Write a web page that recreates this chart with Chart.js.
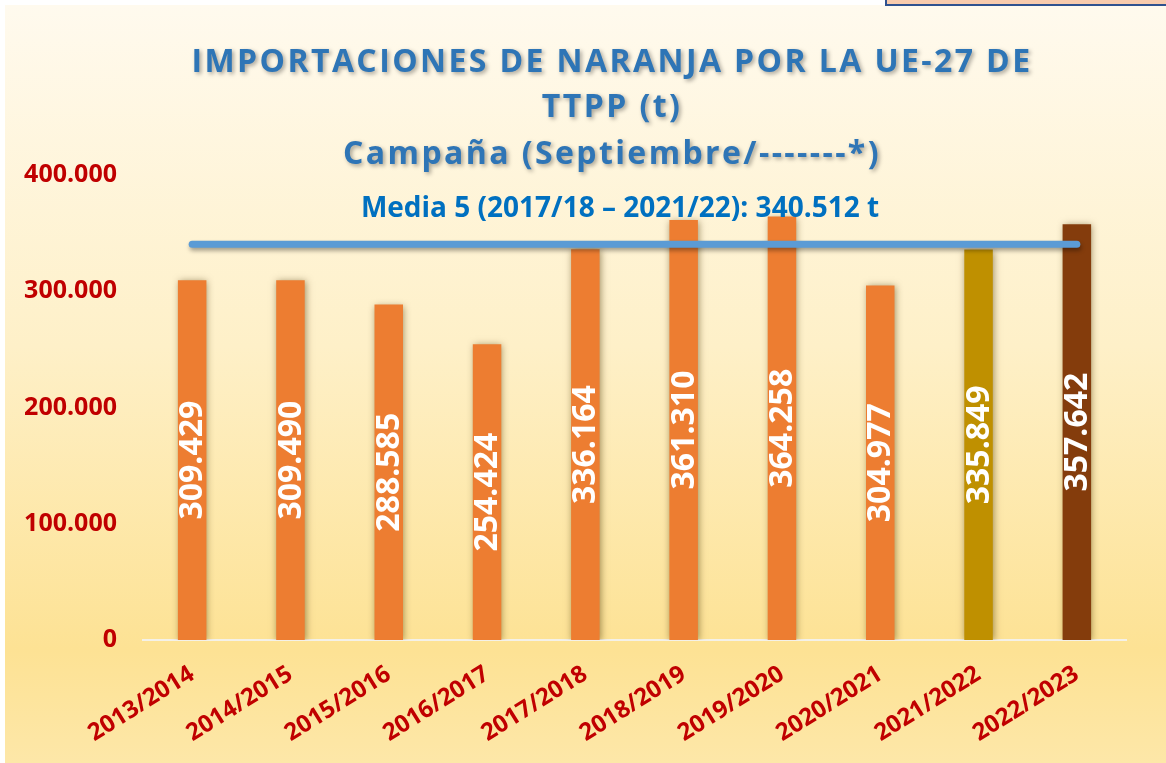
<!DOCTYPE html>
<html>
<head>
<meta charset="utf-8">
<script src="https://cdn.jsdelivr.net/npm/chart.js@4.4.0/dist/chart.umd.min.js"></script>
<style>
  body { margin: 0; background: #fff; overflow: hidden; }
  #caja { position: relative; width: 1166px; height: 763px; }
  #recuadro { position: absolute; left: 885px; top: -20px; width: 300px; height: 22px;
    background: #F8CBAD; border: 2px solid #2F528F; }
</style>
</head>
<body>
<div id="caja">
  <canvas id="grafico"></canvas>
  <div id="recuadro"></div>
</div>
<script>
const campanas = ["2013/2014", "2014/2015", "2015/2016", "2016/2017", "2017/2018",
                  "2018/2019", "2019/2020", "2020/2021", "2021/2022", "2022/2023"];
const importaciones = [309429, 309490, 288585, 254424, 336164, 361310, 364258, 304977, 335849, 357642];
const media5 = [340512, 340512, 340512, 340512, 340512, 340512, 340512, 340512, 340512, 340512];
const ticksY = [0, 100000, 200000, 300000, 400000];
const titulo = ["IMPORTACIONES DE NARANJA POR LA UE-27 DE", "TTPP (t)", "Campaña (Septiembre/-------*)"];
const textoMedia = "Media 5 (2017/18 – 2021/22): 340.512 t";

const coloresBarras = ["#ED7D31", "#ED7D31", "#ED7D31", "#ED7D31", "#ED7D31",
                       "#ED7D31", "#ED7D31", "#ED7D31", "#BF9000", "#843C0C"];
const fuente = "'Open Sans', 'Liberation Sans', sans-serif";

function formato(n) {
    return n.toString().replace(/\B(?=(\d{3})+(?!\d))/g, ".");
}

// fondo degradado y franja blanca a la izquierda
const fondo = {
    id: "fondo",
    beforeDraw(chart) {
        const ctx = chart.ctx;
        const w = chart.width, h = chart.height;
        ctx.save();
        ctx.fillStyle = "#ffffff";
        ctx.fillRect(0, 0, w, h);
        const g = ctx.createLinearGradient(0, 5, 0, h);
        g.addColorStop(0, "#FFFAEE");
        g.addColorStop(0.45, "#FEF0C8");
        g.addColorStop(0.85, "#FDE294");
        g.addColorStop(1, "#FDE7A8");
        ctx.fillStyle = g;
        ctx.fillRect(5, 5, w - 5, h - 5);
        ctx.restore();
    }
};

// sombras de barras y linea
const sombras = {
    id: "sombras",
    beforeDatasetDraw(chart, args) {
        const ctx = chart.ctx;
        ctx.save();
        if (args.meta.type === "line") {
            ctx.shadowColor = "rgba(0,0,0,0.35)";
            ctx.shadowBlur = 4;
            ctx.shadowOffsetX = 1;
            ctx.shadowOffsetY = 3;
        } else {
            ctx.shadowColor = "rgba(70,50,0,0.5)";
            ctx.shadowBlur = 7;
            ctx.shadowOffsetX = 1;
            ctx.shadowOffsetY = 1;
        }
    },
    afterDatasetDraw(chart) {
        chart.ctx.restore();
    }
};

// etiquetas de valores dentro de las barras
const etiquetas = {
    id: "etiquetas",
    afterDatasetsDraw(chart) {
        const ctx = chart.ctx;
        const meta = chart.getDatasetMeta(0);
        ctx.save();
        ctx.fillStyle = "#ffffff";
        ctx.font = "bold 32px " + fuente;
        ctx.textAlign = "center";
        ctx.textBaseline = "middle";
        meta.data.forEach((barra, i) => {
            const y = (barra.y + barra.base) / 2;
            ctx.save();
            ctx.translate(barra.x + 1, y);
            ctx.rotate(-Math.PI / 2);
            ctx.fillText(formato(importaciones[i]), 0, 0);
            ctx.restore();
        });

        // texto de la media
        ctx.fillStyle = "#0070C0";
        ctx.font = "bold 28px " + fuente;
        ctx.textBaseline = "alphabetic";
        ctx.fillText(textoMedia, 620, 217);
        ctx.restore();
    }
};

// titulo con espaciado y sombra
const tituloPlugin = {
    id: "tituloPlugin",
    afterDraw(chart) {
        const ctx = chart.ctx;
        ctx.save();
        ctx.font = "bold 32px " + fuente;
        ctx.letterSpacing = "2.4px";
        ctx.textAlign = "center";
        ctx.textBaseline = "alphabetic";
        ctx.fillStyle = "#2E75B6";
        ctx.shadowColor = "rgba(0,0,0,0.35)";
        ctx.shadowBlur = 4;
        ctx.shadowOffsetX = 2;
        ctx.shadowOffsetY = 2;
        const bases = [72, 117, 164];
        titulo.forEach((t, i) => ctx.fillText(t, 612, bases[i]));
        ctx.restore();
    }
};

const ctx = document.getElementById("grafico").getContext("2d");
new Chart(ctx, {
    type: "bar",
    data: {
        labels: campanas,
        datasets: [{
            label: "Importaciones",
            data: importaciones,
            backgroundColor: coloresBarras,
            barPercentage: 0.29,
            categoryPercentage: 1,
            order: 1
        }, {
            type: "line",
            label: "Media 5",
            data: media5,
            borderColor: "#5B9BD5",
            borderWidth: 7,
            borderCapStyle: "round",
            pointRadius: 0,
            fill: false,
            order: 0
        }]
    },
    options: {
        responsive: true,
        maintainAspectRatio: false,
        animation: false,
        layout: { padding: { top: 175, right: 40, left: 0, bottom: 0 } },
        plugins: {
            legend: { display: false },
            tooltip: { enabled: false }
        },
        scales: {
            x: {
                grid: { display: false },
                border: { color: "#F4F1E8", width: 2 },
                ticks: {
                    color: "#C00000",
                    font: { family: fuente, weight: "bold", size: 24 },
                    minRotation: 32,
                    maxRotation: 32,
                    autoSkip: false,
                    padding: 12
                },
                afterFit(scale) { scale.height = 123; }
            },
            y: {
                min: 0,
                max: 400000,
                grid: { display: false },
                border: { display: false },
                afterBuildTicks(scale) { scale.ticks = ticksY.map(v => ({ value: v })); },
                ticks: {
                    color: "#C00000",
                    font: { family: fuente, weight: "bold", size: 25 },
                    padding: 18,
                    callback: v => formato(v)
                },
                afterFit(scale) { scale.width = 143; }
            }
        }
    },
    plugins: [fondo, sombras, etiquetas, tituloPlugin]
});
</script>
</body>
</html>
